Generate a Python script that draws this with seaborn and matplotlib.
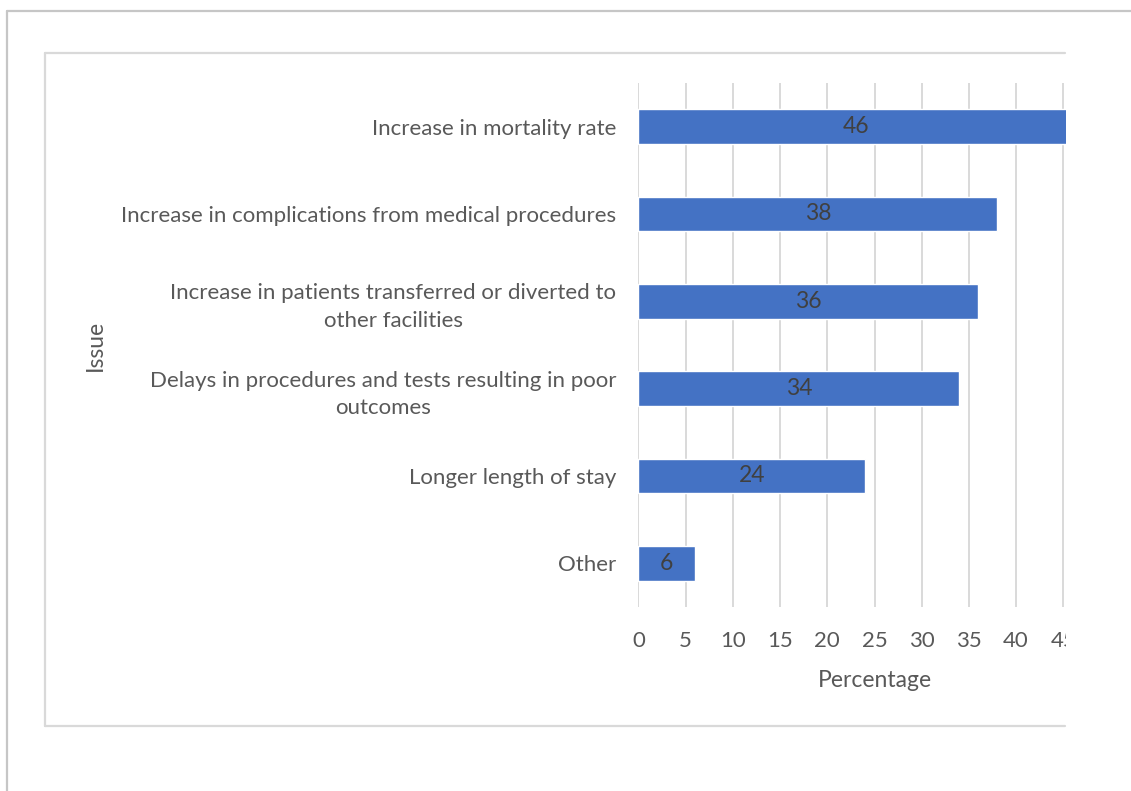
import matplotlib
matplotlib.use("Agg")
import matplotlib.pyplot as plt
import seaborn as sns
import pandas as pd
from matplotlib.patches import Rectangle
from matplotlib.lines import Line2D

categories = [
    "Increase in mortality rate",
    "Increase in complications from medical procedures",
    "Increase in patients transferred or diverted to\nother facilities",
    "Delays in procedures and tests resulting in poor\noutcomes",
    "Longer length of stay",
    "Other",
]
values = [46, 38, 36, 34, 24, 6]
xticks = [0, 5, 10, 15, 20, 25, 30, 35, 40, 45, 50]

sns.set_theme(style="white")
plt.rcParams['font.family'] = ['Lato', 'DejaVu Sans']

W, H = 1131, 791
fig = plt.figure(figsize=(W / 100, H / 100), dpi=100)
fig.patch.set_facecolor("white")

def fx(px):
    return px / W

def fy(py):
    return 1 - py / H

left, right_px = 638.5, 638.5 + 50 * 9.44
ax = fig.add_axes([fx(left), fy(607), fx(right_px) - fx(left), fy(83) - fy(607)])

df = pd.DataFrame({"Issue": categories, "Percentage": values})
sns.barplot(data=df, y="Issue", x="Percentage", orient="h", color="#4472C4",
            width=0.4, saturation=1, ax=ax, zorder=3)

ax.set_xlim(0, 50)
ax.set_xticks(xticks)
ax.grid(axis="x", color="#d9d9d9", linewidth=1.4, zorder=0)
ax.set_axisbelow(True)
for s in ax.spines.values():
    s.set_visible(False)

text_color = "#595959"
fs = 16
ax.tick_params(axis="x", length=0, pad=17, labelsize=fs, labelcolor=text_color)
ax.tick_params(axis="y", length=0, pad=16, labelsize=fs, labelcolor=text_color)
for lab in ax.get_yticklabels():
    lab.set_multialignment("center")
    lab.set_linespacing(1.45)

ax.set_xlabel("Percentage", fontsize=fs + 0.5, color=text_color, labelpad=14)
ax.set_ylabel("Issue", fontsize=fs + 0.5, color=text_color)

for c in ax.containers:
    ax.bar_label(c, label_type="center", color="#404040", fontsize=fs + 0.5)

ax.yaxis.set_label_coords(fx(106), fy(345), transform=fig.transFigure)

# clip at the right edge like the reference
fig.add_artist(Rectangle((fx(1065.5), 0), 1 - fx(1065.5), fy(12), transform=fig.transFigure,
                         facecolor="white", edgecolor="none", zorder=10))

# inner chart border
inner = "#d9d9d9"
for (x0, y0, x1, y1) in [(45, 53, 1065, 53), (45, 53, 45, 725.5), (45, 725.5, 1065, 725.5)]:
    fig.add_artist(Line2D([fx(x0), fx(x1)], [fy(y0), fy(y1)], transform=fig.transFigure,
                          color=inner, linewidth=1.6, zorder=11))

# outer frame
outer = "#c6c6c6"
for (x0, y0, x1, y1) in [(7, 11, 1131, 11), (7, 11, 7, 791)]:
    fig.add_artist(Line2D([fx(x0), fx(x1)], [fy(y0), fy(y1)], transform=fig.transFigure,
                          color=outer, linewidth=1.6, zorder=11))

fig.savefig("out.png", dpi=100)
